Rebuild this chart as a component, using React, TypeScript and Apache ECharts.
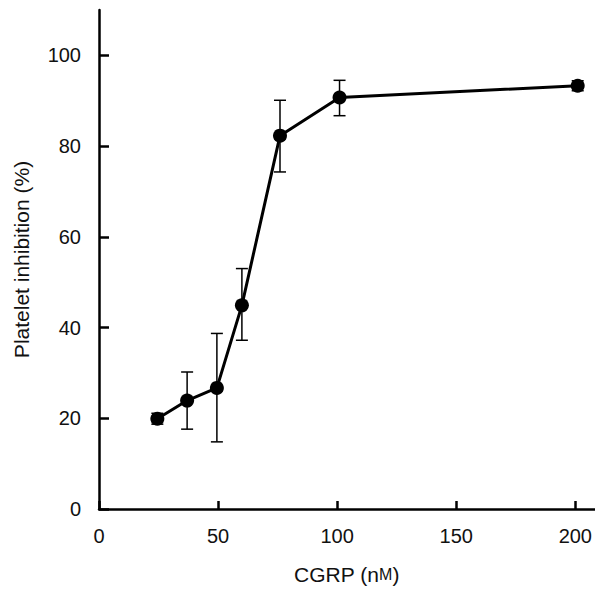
import React, { useEffect, useRef } from "react";
import * as echarts from "echarts";

const concentrations = [24.5, 37, 49.5, 60, 76, 101, 201];
const inhibition = [19.9, 23.9, 26.7, 44.9, 82.3, 90.7, 93.3];
const errLower = [18.7, 17.6, 14.8, 37.2, 74.3, 86.7, 92.2];
const errUpper = [21.1, 30.2, 38.7, 53.0, 90.1, 94.5, 94.4];
const xTicks = [0, 50, 100, 150, 200];
const yTicks = [0, 20, 40, 60, 80, 100];

const FONT = "Liberation Sans, Arial, sans-serif";

export default function App() {
  const ref = useRef<HTMLDivElement>(null);
  useEffect(() => {
    if (!ref.current) return;
    const chart = echarts.init(ref.current, undefined, { renderer: "svg" });
    const lineData = concentrations.map((x, i) => [x, inhibition[i]]);
    const errData = concentrations.map((x, i) => [x, errLower[i], errUpper[i]]);
    chart.setOption({
      animation: false,
      backgroundColor: "#fff",
      grid: { left: 99, right: 0, top: 10, bottom: 79 },
      xAxis: {
        type: "value",
        min: 0,
        max: 208,
        name: "CGRP (n{s|M})",
        nameLocation: "middle",
        nameGap: 55,
        nameTextStyle: {
          fontSize: 21,
          color: "#111",
          fontFamily: FONT,
          rich: { s: { fontSize: 16, color: "#111", fontFamily: FONT } },
        },
        splitLine: { show: false },
        axisLine: { show: true, onZero: false, lineStyle: { color: "#000", width: 2.5 } },
        axisTick: { show: true, inside: true, length: 8, customValues: xTicks, lineStyle: { color: "#000", width: 2.5 } },
        axisLabel: { customValues: xTicks, fontSize: 20, color: "#111", margin: 17, fontFamily: FONT },
      },
      yAxis: {
        type: "value",
        min: 0,
        max: 110,
        name: "Platelet inhibition (%)",
        nameLocation: "middle",
        nameGap: 67,
        nameTextStyle: { fontSize: 21, color: "#111", fontFamily: FONT },
        splitLine: { show: false },
        axisLine: { show: true, lineStyle: { color: "#000", width: 2.5 } },
        axisTick: { show: true, inside: true, length: 10, customValues: yTicks, lineStyle: { color: "#000", width: 2.5 } },
        axisLabel: { customValues: yTicks, fontSize: 20, color: "#111", margin: 18, fontFamily: FONT },
      },
      series: [
        {
          type: "custom",
          data: errData,
          z: 1,
          renderItem: (params: any, api: any) => {
            const x = api.value(0);
            const lo = api.coord([x, api.value(1)]);
            const hi = api.coord([x, api.value(2)]);
            const hw = 6;
            const style = { stroke: "#000", lineWidth: 1.5 };
            return {
              type: "group",
              children: [
                { type: "line", shape: { x1: lo[0], y1: lo[1], x2: hi[0], y2: hi[1] }, style },
                { type: "line", shape: { x1: lo[0] - hw, y1: lo[1], x2: lo[0] + hw, y2: lo[1] }, style },
                { type: "line", shape: { x1: hi[0] - hw, y1: hi[1], x2: hi[0] + hw, y2: hi[1] }, style },
              ],
            };
          },
        },
        {
          type: "line",
          data: lineData,
          z: 2,
          symbol: "circle",
          symbolSize: 14,
          itemStyle: { color: "#000" },
          lineStyle: { color: "#000", width: 3 },
        },
      ],
    });
    return () => chart.dispose();
  }, []);
  return <div ref={ref} style={{ position: "fixed", left: 0, top: 0, width: 595, height: 590 }} />;
}
